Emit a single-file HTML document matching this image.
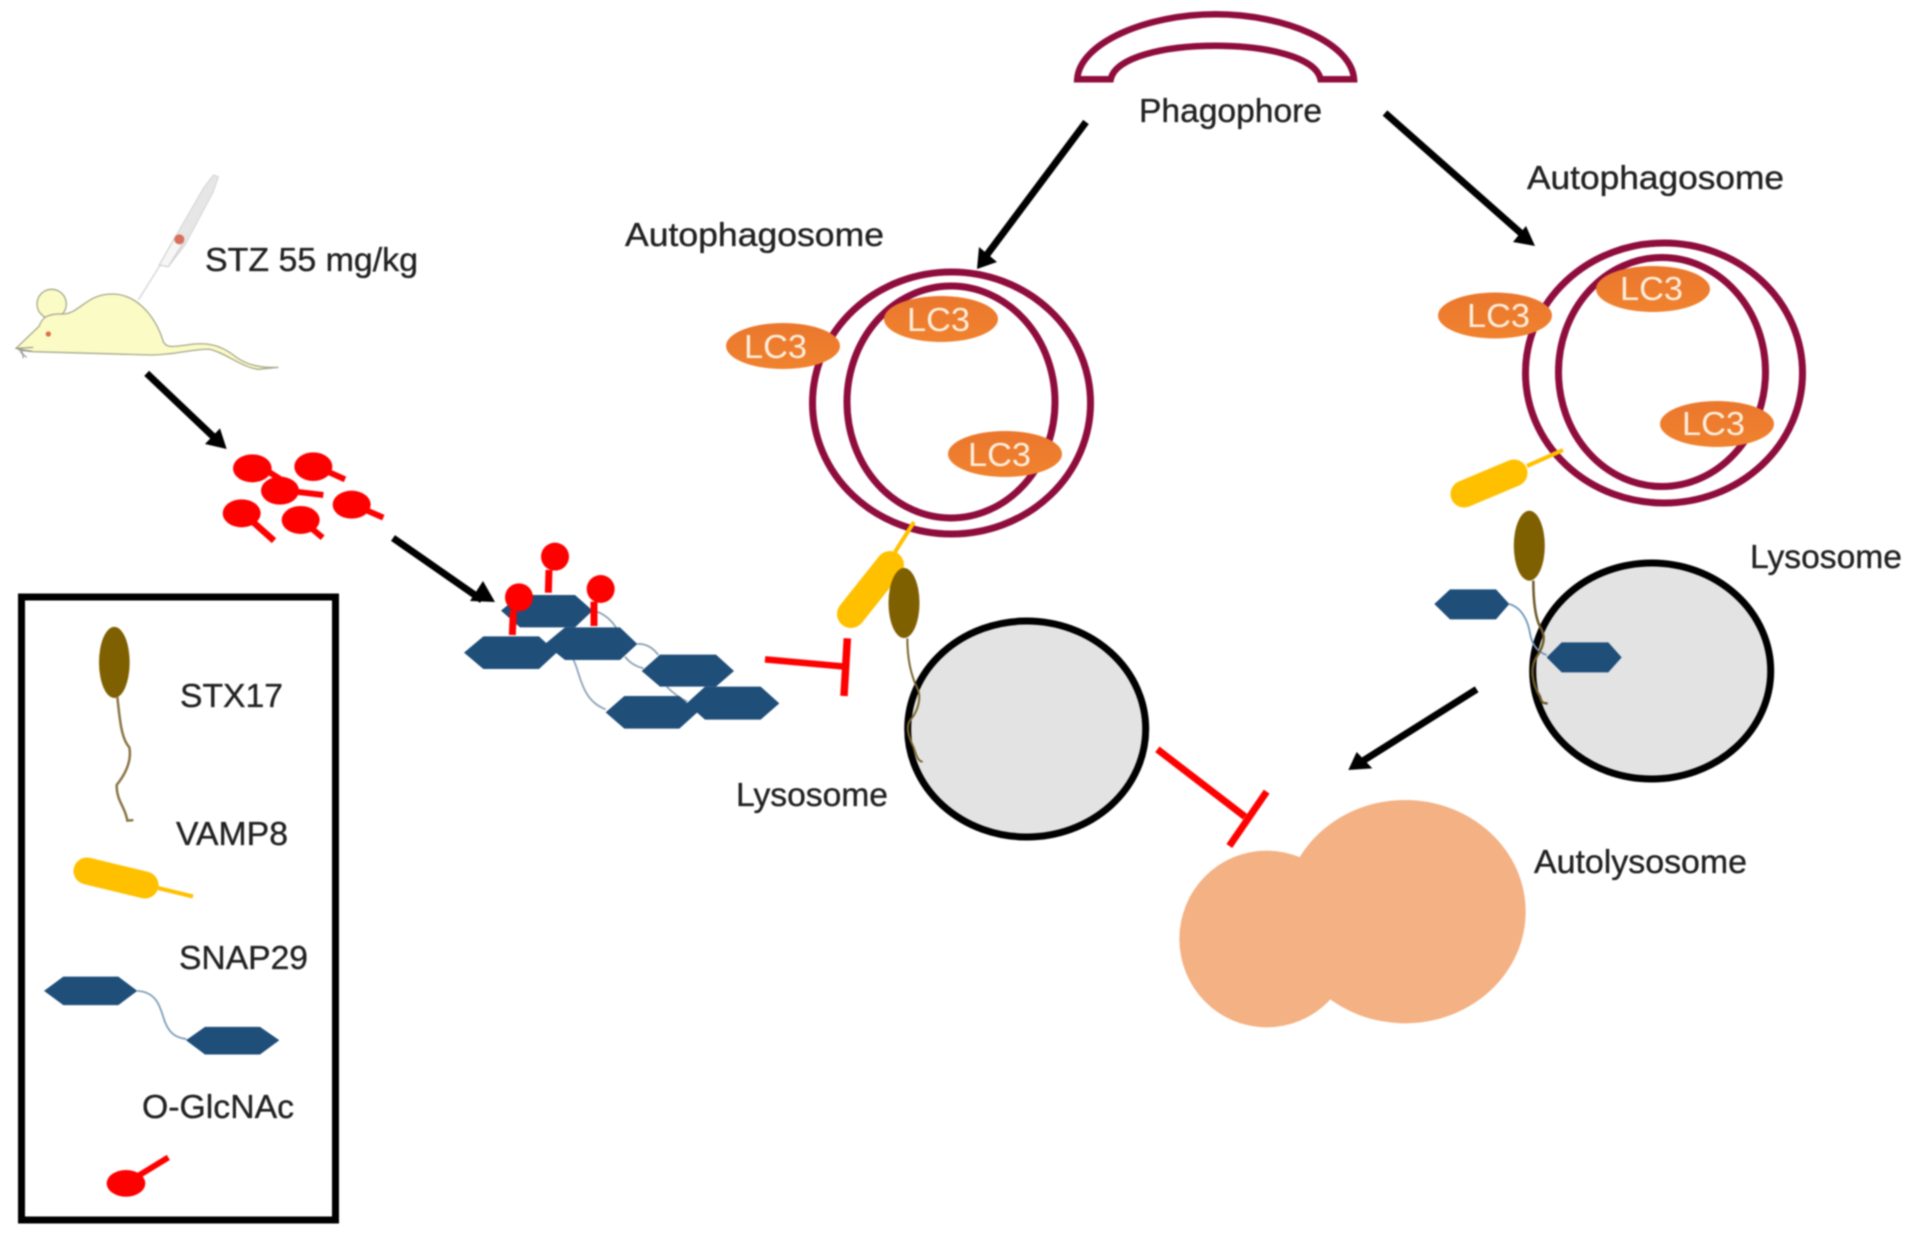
<!DOCTYPE html>
<html><head><meta charset="utf-8"><title>Diagram</title>
<style>
html,body{margin:0;padding:0;background:#fff}
svg{display:block;filter:blur(.7px)}
svg *{vector-effect:non-scaling-stroke}
text{font-family:"Liberation Sans",sans-serif;font-size:33px;fill:#222;stroke:#222;stroke-width:.35px}
text.lc{fill:#fdeedd;stroke:none;font-size:33px}
</style></head><body>
<svg width="1913" height="1236" viewBox="0 0 1913 1236" xmlns="http://www.w3.org/2000/svg">
<defs><linearGradient id="o" x1="0" y1="0" x2="0" y2="1"><stop offset="0" stop-color="#ea772d"/><stop offset="1" stop-color="#f0822e"/></linearGradient></defs>
<rect width="1913" height="1236" fill="#fff"/>

<!-- Mouse -->
<g transform="translate(0,150) scale(.33333)">
<line x1="415" y1="450" x2="490" y2="330" stroke="#d8d8d8" stroke-width="1.5"/>
<path d="M478 345 L525 262 L610 115 L640 75 L655 80 L640 125 L555 285 L505 350 Z" fill="#e6e6e6" stroke="#d4d4d4" stroke-width="1"/>
<path d="M478 345 L525 262 L550 278 L505 350 Z" fill="#f6f6f6" stroke="#ccc" stroke-width="1"/>
<circle cx="538" cy="268" r="15" fill="#d9705c"/>
<circle cx="155" cy="462" r="44" fill="#fbfbc6" stroke="#a8a88c" stroke-width="1.3"/>
<path d="M48 595 L118 528 C125 505 140 490 190 492 C240 490 260 430 340 432 C420 435 470 510 490 575 C500 595 520 590 560 585 C620 575 660 585 700 615 C730 640 770 655 835 652 L775 658 C720 650 680 610 630 598 C580 595 530 615 450 615 L100 605 Z" fill="#fbfbc6" stroke="#a8a88c" stroke-width="1.3"/>
<path d="M48 595 L100 592 M55 600 L95 605 M60 605 L80 622 M65 600 L70 625" stroke="#888" stroke-width="1" fill="none"/>
<circle cx="145" cy="552" r="8" fill="#d9704a"/>
<!-- arrow -->
<line x1="440" y1="670" x2="640" y2="860" stroke="#000" stroke-width="7"/>
<polygon points="680,897 615,882 660,835" fill="#000"/>
<!-- O-GlcNAc -->
<g fill="#ff0000" stroke="#ff0000">
<line x1="790" y1="955" x2="860" y2="1000" stroke-width="6"/>
<line x1="950" y1="950" x2="1035" y2="988" stroke-width="6"/>
<line x1="860" y1="1022" x2="970" y2="1035" stroke-width="6"/>
<line x1="1060" y1="1064" x2="1150" y2="1103" stroke-width="6"/>
<line x1="730" y1="1090" x2="822" y2="1172" stroke-width="6.5"/>
<line x1="905" y1="1110" x2="968" y2="1163" stroke-width="6"/>
</g>
<g fill="#ff0000">
<ellipse cx="757" cy="955" rx="58" ry="42"/>
<ellipse cx="940" cy="950" rx="57" ry="43"/>
<ellipse cx="840" cy="1022" rx="57" ry="42"/>
<ellipse cx="1055" cy="1064" rx="57" ry="42"/>
<ellipse cx="725" cy="1090" rx="57" ry="42"/>
<ellipse cx="902" cy="1110" rx="57" ry="42"/>
</g>
</g>
<text x="205" y="271" textLength="213" lengthAdjust="spacingAndGlyphs">STZ 55 mg/kg</text>

<!-- Arrow to cluster -->
<line x1="393" y1="538" x2="482" y2="600" stroke="#000" stroke-width="7"/>
<polygon points="495,602 470,601 483,581" fill="#000"/>

<!-- Legend -->
<rect x="21.5" y="597" width="314" height="623" fill="#fff" stroke="#000" stroke-width="7"/>
<g transform="translate(0,580) scale(.33333,.4184)">
<ellipse cx="343" cy="197" rx="46" ry="85" fill="#7f6000"/>
<path d="M352 280 C360 340 365 380 388 400 C395 430 380 460 350 490 C350 530 375 540 382 575 L400 574" fill="none" stroke="#8a7444" stroke-width="2.5"/>
<polygon points="132,982 190,948 355,948 412,982 355,1016 190,1016" fill="#1f4e79"/>
<polygon points="558,1100 615,1068 780,1068 838,1100 780,1134 615,1134" fill="#1f4e79"/>
<path d="M412 982 C470 985 480 1020 490 1045 C505 1085 530 1095 560 1097" fill="none" stroke="#7f9fb8" stroke-width="1.8"/>
<line x1="378" y1="1442" x2="505" y2="1380" stroke="#ff0000" stroke-width="6"/>
<ellipse cx="378" cy="1442" rx="58" ry="32" fill="#ff0000"/>
</g>
<line x1="87" y1="871" x2="145" y2="885" stroke="#ffc000" stroke-width="27" stroke-linecap="round"/>
<line x1="150" y1="886" x2="193" y2="896.5" stroke="#ffc000" stroke-width="4"/>
<text x="180" y="707" textLength="103" lengthAdjust="spacingAndGlyphs">STX17</text>
<text x="176" y="845" textLength="112" lengthAdjust="spacingAndGlyphs">VAMP8</text>
<text x="179" y="969" textLength="129" lengthAdjust="spacingAndGlyphs">SNAP29</text>
<text x="142" y="1118" textLength="152" lengthAdjust="spacingAndGlyphs">O-GlcNAc</text>

<!-- Cluster -->
<g transform="translate(440,520) scale(.33333)">
<g fill="none" stroke="#8fa3b5" stroke-width="1.8">
<path d="M470 275 C500 285 520 310 530 325"/>
<path d="M592 372 C620 370 640 385 655 405"/>
<path d="M555 410 C570 430 590 440 610 445"/>
<path d="M400 420 C420 450 420 540 497 568"/>
<path d="M680 500 C700 520 720 535 742 545"/>
</g>
<g fill="#1f4e79">
<polygon points="183,272 240,225 405,225 458,272 405,322 240,322"/>
<polygon points="72,398 130,349 297,349 350,398 297,447 130,447"/>
<polygon points="315,372 375,322 540,322 592,372 540,420 375,420"/>
<polygon points="605,453 660,404 828,404 882,453 828,500 660,500"/>
<polygon points="740,550 795,500 962,500 1018,550 962,599 795,599"/>
<polygon points="497,577 553,528 718,528 772,577 718,626 553,626"/>
</g>
<g stroke="#ff0000" stroke-width="7">
<line x1="327" y1="150" x2="325" y2="218"/>
<line x1="220" y1="270" x2="217" y2="345"/>
<line x1="462" y1="245" x2="462" y2="318"/>
</g>
<g fill="#ff0000">
<circle cx="345" cy="110" r="42"/>
<circle cx="237" cy="232" r="42"/>
<circle cx="482" cy="207" r="42"/>
</g>
<line x1="975" y1="418" x2="1215" y2="440" stroke="#ff0000" stroke-width="6.5"/>
<line x1="1222" y1="355" x2="1212" y2="528" stroke="#ff0000" stroke-width="7.5"/>
</g>

<!-- Phagophore -->
<g transform="translate(700,0) scale(.44643,.35714)">
<path d="M845 222 C850 120 1000 40 1155 40 C1310 40 1460 120 1465 222 L1390 222 C1380 160 1270 128 1155 128 C1040 128 930 160 920 222 Z" fill="#fff" stroke="#8f0d3d" stroke-width="6.5"/>
</g>
<text x="1139" y="122" textLength="183" lengthAdjust="spacingAndGlyphs">Phagophore</text>

<!-- Arrows from phagophore -->
<line x1="1086" y1="122" x2="986" y2="256" stroke="#000" stroke-width="7"/>
<polygon points="977,269 979,247 997,262" fill="#000"/>
<line x1="1385" y1="113" x2="1523" y2="235" stroke="#000" stroke-width="7"/>
<polygon points="1535,246 1513,242 1526,226" fill="#000"/>

<!-- Left autophagosome -->
<ellipse cx="951.5" cy="403" rx="139" ry="131" fill="none" stroke="#8f0d3d" stroke-width="7"/>
<ellipse cx="951" cy="402" rx="104" ry="116" fill="none" stroke="#8f0d3d" stroke-width="7"/>
<g fill="url(#o)">
<ellipse cx="783" cy="346" rx="57" ry="23"/>
<ellipse cx="941" cy="319" rx="57" ry="23"/>
<ellipse cx="1005" cy="454" rx="57" ry="23"/>
</g>
<text class="lc" x="744" y="358" textLength="63" lengthAdjust="spacingAndGlyphs">LC3</text>
<text class="lc" x="907" y="331" textLength="63" lengthAdjust="spacingAndGlyphs">LC3</text>
<text class="lc" x="968" y="466" textLength="63" lengthAdjust="spacingAndGlyphs">LC3</text>
<text x="625" y="246" textLength="259" lengthAdjust="spacingAndGlyphs">Autophagosome</text>

<!-- Left yellow + STX + lysosome -->
<line x1="895" y1="552" x2="914" y2="522" stroke="#ffc000" stroke-width="4"/>
<line x1="851" y1="614" x2="890" y2="565" stroke="#ffc000" stroke-width="28" stroke-linecap="round"/>
<ellipse cx="1026.7" cy="729" rx="119" ry="108" fill="#e3e3e3" stroke="#000" stroke-width="7"/>
<ellipse cx="904" cy="603" rx="15.5" ry="35" fill="#7f6000"/>
<g transform="translate(830,520) scale(.33333)">
<path d="M232 355 C232 420 245 470 262 505 C275 530 265 570 245 595 C225 615 235 650 250 680 C258 700 262 725 278 725" fill="none" stroke="#7a6630" stroke-width="2"/>
</g>
<text x="736" y="806" textLength="152" lengthAdjust="spacingAndGlyphs">Lysosome</text>

<!-- Right autophagosome -->
<ellipse cx="1664" cy="373" rx="138.5" ry="130" fill="none" stroke="#8f0d3d" stroke-width="7"/>
<ellipse cx="1662" cy="372" rx="103.5" ry="114.5" fill="none" stroke="#8f0d3d" stroke-width="7"/>
<g fill="url(#o)">
<ellipse cx="1495" cy="315.5" rx="57" ry="23"/>
<ellipse cx="1653" cy="289" rx="57" ry="23"/>
<ellipse cx="1717" cy="424" rx="57" ry="23"/>
</g>
<text class="lc" x="1467" y="327" textLength="63" lengthAdjust="spacingAndGlyphs">LC3</text>
<text class="lc" x="1620" y="300" textLength="63" lengthAdjust="spacingAndGlyphs">LC3</text>
<text class="lc" x="1682" y="435" textLength="63" lengthAdjust="spacingAndGlyphs">LC3</text>
<text x="1527" y="189" textLength="257" lengthAdjust="spacingAndGlyphs">Autophagosome</text>

<!-- Right yellow -->
<line x1="1527" y1="466" x2="1563" y2="450" stroke="#ffc000" stroke-width="4"/>
<line x1="1464" y1="494" x2="1514" y2="473" stroke="#ffc000" stroke-width="27" stroke-linecap="round"/>

<!-- Right lysosome -->
<ellipse cx="1651.7" cy="671" rx="119" ry="108" fill="#e3e3e3" stroke="#000" stroke-width="7"/>
<ellipse cx="1529.3" cy="545.7" rx="15.5" ry="35" fill="#7f6000"/>
<g transform="translate(1400,420) scale(.33333)">
<path d="M328 552 C370 565 385 610 390 640 C395 670 410 695 440 705" fill="none" stroke="#6f97bd" stroke-width="1.8"/>
<polygon points="103,552 150,508 288,508 328,552 288,598 150,598" fill="#1f4e79"/>
<polygon points="440,712 485,667 625,667 665,712 625,757 485,757" fill="#1f4e79"/>
<path d="M400 482 C400 540 405 590 420 620 C440 650 430 680 410 710 C390 740 395 790 420 830 C425 850 430 850 443 850" fill="none" stroke="#6e5a28" stroke-width="2.5"/>
</g>
<text x="1750" y="568" textLength="152" lengthAdjust="spacingAndGlyphs">Lysosome</text>

<!-- Autolysosome area -->
<g transform="translate(1130,680) scale(.33333)">
<line x1="1040" y1="28" x2="695" y2="245" stroke="#000" stroke-width="7"/>
<polygon points="655,270 680,216 727,265" fill="#000"/>
<line x1="82" y1="208" x2="345" y2="410" stroke="#ff0000" stroke-width="7"/>
<line x1="410" y1="335" x2="298" y2="498" stroke="#ff0000" stroke-width="7"/>
<ellipse cx="825" cy="695" rx="362" ry="335" fill="#f4b183"/>
<ellipse cx="410" cy="777" rx="262" ry="265" fill="#f4b183"/>
</g>
<text x="1534" y="873" textLength="213" lengthAdjust="spacingAndGlyphs">Autolysosome</text>
</svg>
</body></html>
